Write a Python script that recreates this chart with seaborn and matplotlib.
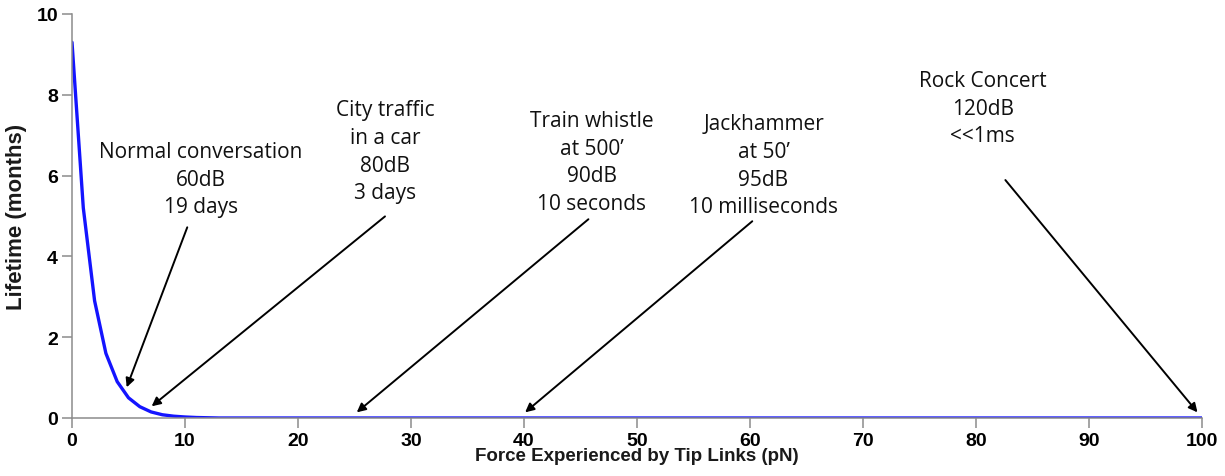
import matplotlib
matplotlib.use("Agg")
import matplotlib.pyplot as plt
import numpy as np
import pandas as pd
import seaborn as sns

# Tip-link lifetime versus applied force
force_pn = [0, 1, 2, 3, 4, 5, 6, 7, 8, 9, 10, 11, 12, 13, 20, 30, 40, 50, 60, 70, 80, 90, 100]
lifetime_months = [9.3, 5.2, 2.9, 1.6, 0.9, 0.5, 0.28, 0.15, 0.08, 0.045, 0.025, 0.012, 0.006, 0.0,
                   0.0, 0.0, 0.0, 0.0, 0.0, 0.0, 0.0, 0.0, 0.0]

x_ticks = [0, 10, 20, 30, 40, 50, 60, 70, 80, 90, 100]
y_ticks = [0, 2, 4, 6, 8, 10]

# Sound exposure annotations: text, last-line baseline, arrow tail, arrow head
notes = [
    "Normal conversation\n60dB\n19 days",
    "City traffic\nin a car\n80dB\n3 days",
    "Train whistle\nat 500\u2019\n90dB\n10 seconds",
    "Jackhammer\nat 50\u2019\n95dB\n10 milliseconds",
    "Rock Concert\n120dB\n<<1ms",
]
note_x = [11.4, 27.7, 46.0, 61.2, 80.6]
note_base = [5.09, 5.44, 5.17, 5.09, 6.85]
tail_x = [10.2, 27.7, 45.7, 60.2, 82.6]
tail_y = [4.72, 4.99, 4.92, 4.87, 5.89]
head_x = [4.84, 7.05, 25.2, 40.1, 99.6]
head_y = [0.76, 0.29, 0.14, 0.14, 0.14]

df = pd.DataFrame({"force": force_pn, "lifetime": lifetime_months})

sns.set_style("ticks")
plt.rcParams["font.family"] = ["Liberation Sans", "DejaVu Sans"]

fig = plt.figure(figsize=(12.25, 4.77), dpi=100)
ax = fig.add_axes([72 / 1225, 58 / 477, 1130 / 1225, 404 / 477])

sns.lineplot(data=df, x="force", y="lifetime", ax=ax, color="#1414ff", linewidth=2.4)

ax.set_xlim(0, 100)
ax.set_ylim(0, 10)
ax.set_xticks(x_ticks)
ax.set_yticks(y_ticks)
ax.tick_params(axis="both", direction="out", length=7, width=1.1, color="#8c8c8c",
               labelsize=14, labelcolor="black", pad=3)
for lab in ax.get_xticklabels() + ax.get_yticklabels():
    lab.set_fontweight("bold")
for side in ["top", "right"]:
    ax.spines[side].set_visible(False)
for side in ["left", "bottom"]:
    ax.spines[side].set_color("#8c8c8c")
    ax.spines[side].set_linewidth(1.1)

ax.set_xlabel("Force Experienced by Tip Links (pN)", fontsize=13.5, fontweight="bold",
              labelpad=-1, color="#1a1a1a")
ax.set_ylabel("Lifetime (months)", fontsize=16, fontweight="bold", labelpad=7, color="#1a1a1a")

for txt, nx, ny, tx, ty, hx, hy in zip(notes, note_x, note_base, tail_x, tail_y, head_x, head_y):
    ax.text(nx, ny, txt, ha="center", va="baseline", fontsize=15,
            family=["Open Sans", "DejaVu Sans"], linespacing=1.42, color="#111111")
    ax.annotate("", xy=(hx, hy), xytext=(tx, ty),
                arrowprops=dict(arrowstyle="-|>", color="black", lw=1.4,
                                mutation_scale=13, shrinkA=0, shrinkB=0))

fig.savefig("out.png", dpi=100)
